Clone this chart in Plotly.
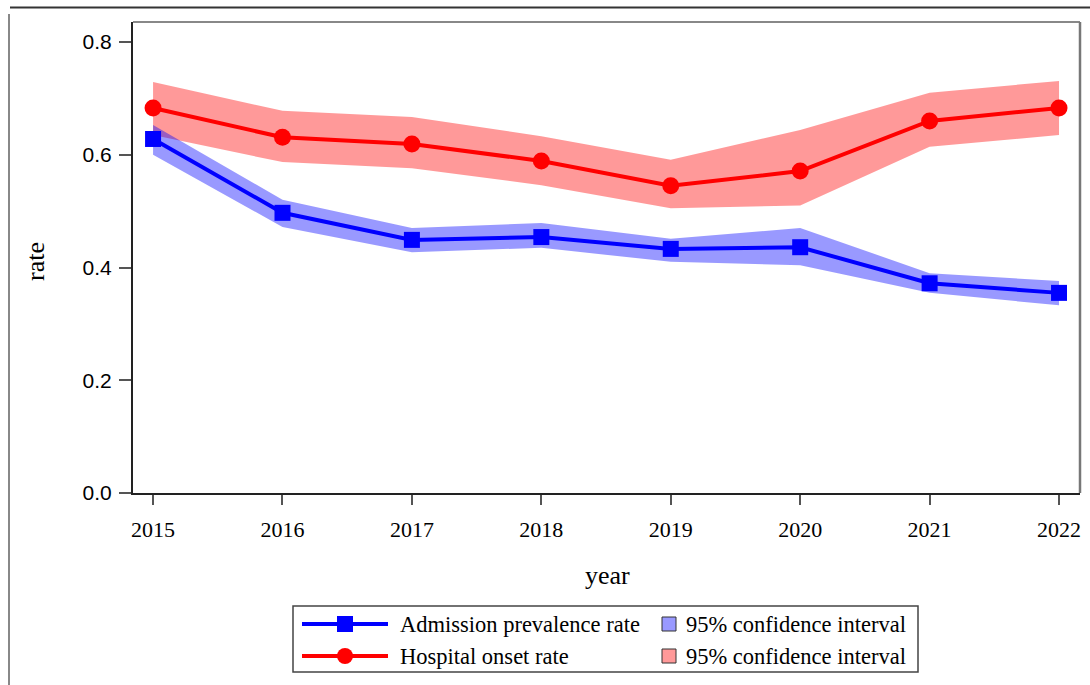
import plotly.graph_objects as go

# ---------------- data ----------------
years = [2015, 2016, 2017, 2018, 2019, 2020, 2021, 2022]
adm = [0.628, 0.497, 0.449, 0.454, 0.433, 0.436, 0.372, 0.355]
adm_lo = [0.600, 0.472, 0.427, 0.435, 0.410, 0.404, 0.355, 0.333]
adm_hi = [0.653, 0.520, 0.470, 0.479, 0.451, 0.470, 0.390, 0.376]
hosp = [0.683, 0.631, 0.619, 0.589, 0.545, 0.571, 0.660, 0.683]
hosp_lo = [0.635, 0.587, 0.576, 0.546, 0.505, 0.510, 0.614, 0.635]
hosp_hi = [0.729, 0.678, 0.667, 0.633, 0.591, 0.644, 0.710, 0.731]
y_ticks = [0.0, 0.2, 0.4, 0.6, 0.8]
legend_labels = ["Admission prevalence rate", "Hospital onset rate",
                 "95% confidence interval", "95% confidence interval"]

BLUE = "#0000ff"
RED = "#ff0000"
BLUE_BAND = "rgba(0,0,255,0.4)"
RED_BAND = "rgba(255,0,0,0.4)"
SERIF = "Liberation Serif"
SANS = "Liberation Sans"

W, H = 1090, 685
L, R, T, B = 133, 1080, 22, 493
PW, PH = R - L, B - T


def px(x):
    return (x - L) / PW


def py(y):
    return (B - y) / PH


fig = go.Figure()

# confidence bands
for lo, hi, col in [(hosp_lo, hosp_hi, RED_BAND), (adm_lo, adm_hi, BLUE_BAND)]:
    fig.add_trace(go.Scatter(x=years + years[::-1], y=hi + lo[::-1], fill="toself",
                             fillcolor=col, line=dict(width=0), mode="lines",
                             hoverinfo="skip", showlegend=False))

# lines
fig.add_trace(go.Scatter(x=years, y=hosp, mode="lines+markers",
                         line=dict(color=RED, width=4),
                         marker=dict(symbol="circle", size=17, color=RED),
                         name=legend_labels[1], showlegend=False))
fig.add_trace(go.Scatter(x=years, y=adm, mode="lines+markers",
                         line=dict(color=BLUE, width=4),
                         marker=dict(symbol="square", size=16, color=BLUE),
                         name=legend_labels[0], showlegend=False))

shapes = []
annotations = []

# outer frame lines
shapes.append(dict(type="line", xref="paper", yref="paper", x0=px(10), x1=px(1090),
                   y0=py(7.5), y1=py(7.5), line=dict(color="#333333", width=2)))
shapes.append(dict(type="line", xref="paper", yref="paper", x0=px(9), x1=px(9),
                   y0=py(14), y1=py(690), line=dict(color="#888888", width=2)))
# plot top/right borders (gray)
shapes.append(dict(type="line", xref="paper", yref="paper", x0=0, x1=1, y0=1, y1=1,
                   line=dict(color="#888888", width=2)))
shapes.append(dict(type="line", xref="paper", yref="paper", x0=1, x1=1, y0=0, y1=1,
                   line=dict(color="#777777", width=2.5)))

# manual legend
shapes.append(dict(type="rect", xref="paper", yref="paper", x0=px(293), x1=px(918),
                   y0=py(606), y1=py(672), line=dict(color="#444444", width=1.5),
                   fillcolor="white"))
rows = [(624, BLUE, "square", BLUE_BAND, legend_labels[0]),
        (656, RED, "circle", RED_BAND, legend_labels[1])]
for i, (yy, col, sym, band, lab) in enumerate(rows):
    shapes.append(dict(type="line", xref="paper", yref="paper", x0=px(302), x1=px(388),
                       y0=py(yy), y1=py(yy), line=dict(color=col, width=4)))
    shapes.append(dict(type="rect" if sym == "square" else "circle",
                       xref="paper", yref="paper",
                       xsizemode="pixel", ysizemode="pixel",
                       xanchor=px(345), yanchor=py(yy),
                       x0=-8, x1=8, y0=-8, y1=8,
                       fillcolor=col, line=dict(width=0)))
    annotations.append(dict(xref="paper", yref="paper", x=px(398), y=py(yy),
                            xanchor="left", yanchor="middle", showarrow=False,
                            text=lab, font=dict(family=SERIF, size=22.5, color="black")))
    shapes.append(dict(type="rect", xref="paper", yref="paper",
                       xsizemode="pixel", ysizemode="pixel",
                       xanchor=px(669), yanchor=py(yy),
                       x0=-7, x1=7, y0=-7, y1=7,
                       fillcolor=band, line=dict(color="#333333", width=1)))
    annotations.append(dict(xref="paper", yref="paper", x=px(684), y=py(yy),
                            xanchor="left", yanchor="middle", showarrow=False,
                            text=legend_labels[2 + i],
                            font=dict(family=SERIF, size=22.5, color="black")))

# axis titles
annotations.append(dict(xref="paper", yref="paper", x=px(607), y=py(575),
                        xanchor="center", yanchor="middle", showarrow=False,
                        text="year", font=dict(family=SERIF, size=26, color="black")))
annotations.append(dict(xref="paper", yref="paper", x=px(35), y=py(262),
                        xanchor="center", yanchor="middle", showarrow=False,
                        text="rate", textangle=-90,
                        font=dict(family=SERIF, size=26, color="black")))

fig.update_layout(
    width=W, height=H,
    margin=dict(l=L, r=W - R, t=T, b=H - B),
    paper_bgcolor="white", plot_bgcolor="white",
    showlegend=False,
    shapes=shapes, annotations=annotations,
    xaxis=dict(range=[2014.845, 2022.162], tickvals=years,
               ticktext=[str(y) for y in years],
               showgrid=False, zeroline=False,
               showline=True, linecolor="#222222", linewidth=2,
               ticks="outside", ticklen=10, tickwidth=2, tickcolor="#555555",
               ticklabelstandoff=6,
               tickfont=dict(family=SERIF, size=22, color="black")),
    yaxis=dict(range=[0, 0.8355], tickvals=y_ticks,
               ticktext=[f"{v:.1f}" for v in y_ticks],
               showgrid=False, zeroline=False,
               showline=True, linecolor="#222222", linewidth=2,
               ticks="outside", ticklen=12, tickwidth=2, tickcolor="#555555",
               ticklabelstandoff=3,
               tickfont=dict(family=SANS, size=21, color="black")),
)

fig.write_html("out.html", config={"displayModeBar": False},
               post_script="document.body.style.margin='0';")
